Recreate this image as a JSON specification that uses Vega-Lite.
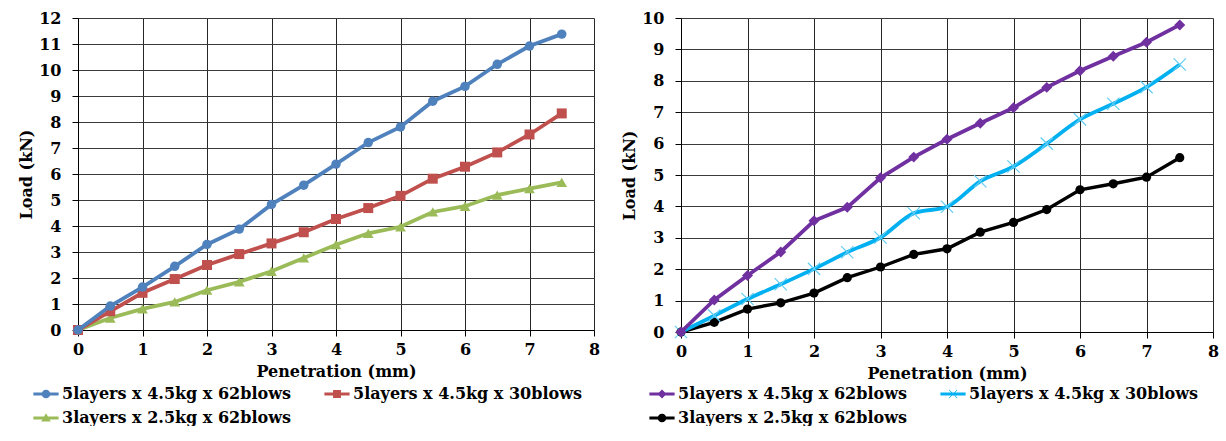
{
  "$schema": "https://vega.github.io/schema/vega-lite/v6.json",
  "background": "white",
  "padding": {"left": 18, "top": 10, "right": 0, "bottom": 0},
  "spacing": 21,
  "datasets": {
    "left": [
      {"p": 0, "l": 0, "s": "5layers x 4.5kg x 62blows"},
      {"p": 0.5, "l": 0.92, "s": "5layers x 4.5kg x 62blows"},
      {"p": 1, "l": 1.65, "s": "5layers x 4.5kg x 62blows"},
      {"p": 1.5, "l": 2.45, "s": "5layers x 4.5kg x 62blows"},
      {"p": 2, "l": 3.29, "s": "5layers x 4.5kg x 62blows"},
      {"p": 2.5, "l": 3.88, "s": "5layers x 4.5kg x 62blows"},
      {"p": 3, "l": 4.83, "s": "5layers x 4.5kg x 62blows"},
      {"p": 3.5, "l": 5.57, "s": "5layers x 4.5kg x 62blows"},
      {"p": 4, "l": 6.38, "s": "5layers x 4.5kg x 62blows"},
      {"p": 4.5, "l": 7.21, "s": "5layers x 4.5kg x 62blows"},
      {"p": 5, "l": 7.81, "s": "5layers x 4.5kg x 62blows"},
      {"p": 5.5, "l": 8.8, "s": "5layers x 4.5kg x 62blows"},
      {"p": 6, "l": 9.37, "s": "5layers x 4.5kg x 62blows"},
      {"p": 6.5, "l": 10.22, "s": "5layers x 4.5kg x 62blows"},
      {"p": 7, "l": 10.92, "s": "5layers x 4.5kg x 62blows"},
      {"p": 7.5, "l": 11.38, "s": "5layers x 4.5kg x 62blows"},
      {"p": 0, "l": 0, "s": "5layers x 4.5kg x 30blows"},
      {"p": 0.5, "l": 0.72, "s": "5layers x 4.5kg x 30blows"},
      {"p": 1, "l": 1.43, "s": "5layers x 4.5kg x 30blows"},
      {"p": 1.5, "l": 1.96, "s": "5layers x 4.5kg x 30blows"},
      {"p": 2, "l": 2.5, "s": "5layers x 4.5kg x 30blows"},
      {"p": 2.5, "l": 2.92, "s": "5layers x 4.5kg x 30blows"},
      {"p": 3, "l": 3.33, "s": "5layers x 4.5kg x 30blows"},
      {"p": 3.5, "l": 3.76, "s": "5layers x 4.5kg x 30blows"},
      {"p": 4, "l": 4.27, "s": "5layers x 4.5kg x 30blows"},
      {"p": 4.5, "l": 4.69, "s": "5layers x 4.5kg x 30blows"},
      {"p": 5, "l": 5.16, "s": "5layers x 4.5kg x 30blows"},
      {"p": 5.5, "l": 5.82, "s": "5layers x 4.5kg x 30blows"},
      {"p": 6, "l": 6.28, "s": "5layers x 4.5kg x 30blows"},
      {"p": 6.5, "l": 6.83, "s": "5layers x 4.5kg x 30blows"},
      {"p": 7, "l": 7.52, "s": "5layers x 4.5kg x 30blows"},
      {"p": 7.5, "l": 8.33, "s": "5layers x 4.5kg x 30blows"},
      {"p": 0, "l": 0, "s": "3layers x 2.5kg x 62blows"},
      {"p": 0.5, "l": 0.46, "s": "3layers x 2.5kg x 62blows"},
      {"p": 1, "l": 0.81, "s": "3layers x 2.5kg x 62blows"},
      {"p": 1.5, "l": 1.08, "s": "3layers x 2.5kg x 62blows"},
      {"p": 2, "l": 1.53, "s": "3layers x 2.5kg x 62blows"},
      {"p": 2.5, "l": 1.85, "s": "3layers x 2.5kg x 62blows"},
      {"p": 3, "l": 2.26, "s": "3layers x 2.5kg x 62blows"},
      {"p": 3.5, "l": 2.77, "s": "3layers x 2.5kg x 62blows"},
      {"p": 4, "l": 3.28, "s": "3layers x 2.5kg x 62blows"},
      {"p": 4.5, "l": 3.72, "s": "3layers x 2.5kg x 62blows"},
      {"p": 5, "l": 3.97, "s": "3layers x 2.5kg x 62blows"},
      {"p": 5.5, "l": 4.54, "s": "3layers x 2.5kg x 62blows"},
      {"p": 6, "l": 4.76, "s": "3layers x 2.5kg x 62blows"},
      {"p": 6.5, "l": 5.19, "s": "3layers x 2.5kg x 62blows"},
      {"p": 7, "l": 5.44, "s": "3layers x 2.5kg x 62blows"},
      {"p": 7.5, "l": 5.68, "s": "3layers x 2.5kg x 62blows"}
    ],
    "right": [
      {"p": 0, "l": 0, "s": "5layers x 4.5kg x 62blows"},
      {"p": 0.5, "l": 1.02, "s": "5layers x 4.5kg x 62blows"},
      {"p": 1, "l": 1.8, "s": "5layers x 4.5kg x 62blows"},
      {"p": 1.5, "l": 2.55, "s": "5layers x 4.5kg x 62blows"},
      {"p": 2, "l": 3.54, "s": "5layers x 4.5kg x 62blows"},
      {"p": 2.5, "l": 3.97, "s": "5layers x 4.5kg x 62blows"},
      {"p": 3, "l": 4.91, "s": "5layers x 4.5kg x 62blows"},
      {"p": 3.5, "l": 5.57, "s": "5layers x 4.5kg x 62blows"},
      {"p": 4, "l": 6.14, "s": "5layers x 4.5kg x 62blows"},
      {"p": 4.5, "l": 6.65, "s": "5layers x 4.5kg x 62blows"},
      {"p": 5, "l": 7.14, "s": "5layers x 4.5kg x 62blows"},
      {"p": 5.5, "l": 7.79, "s": "5layers x 4.5kg x 62blows"},
      {"p": 6, "l": 8.32, "s": "5layers x 4.5kg x 62blows"},
      {"p": 6.5, "l": 8.78, "s": "5layers x 4.5kg x 62blows"},
      {"p": 7, "l": 9.23, "s": "5layers x 4.5kg x 62blows"},
      {"p": 7.5, "l": 9.78, "s": "5layers x 4.5kg x 62blows"},
      {"p": 0, "l": 0, "s": "5layers x 4.5kg x 30blows"},
      {"p": 0.5, "l": 0.52, "s": "5layers x 4.5kg x 30blows"},
      {"p": 1, "l": 1.05, "s": "5layers x 4.5kg x 30blows"},
      {"p": 1.5, "l": 1.52, "s": "5layers x 4.5kg x 30blows"},
      {"p": 2, "l": 2.01, "s": "5layers x 4.5kg x 30blows"},
      {"p": 2.5, "l": 2.54, "s": "5layers x 4.5kg x 30blows"},
      {"p": 3, "l": 3.01, "s": "5layers x 4.5kg x 30blows"},
      {"p": 3.5, "l": 3.78, "s": "5layers x 4.5kg x 30blows"},
      {"p": 4, "l": 3.99, "s": "5layers x 4.5kg x 30blows"},
      {"p": 4.5, "l": 4.8, "s": "5layers x 4.5kg x 30blows"},
      {"p": 5, "l": 5.27, "s": "5layers x 4.5kg x 30blows"},
      {"p": 5.5, "l": 6.0, "s": "5layers x 4.5kg x 30blows"},
      {"p": 6, "l": 6.77, "s": "5layers x 4.5kg x 30blows"},
      {"p": 6.5, "l": 7.27, "s": "5layers x 4.5kg x 30blows"},
      {"p": 7, "l": 7.8, "s": "5layers x 4.5kg x 30blows"},
      {"p": 7.5, "l": 8.52, "s": "5layers x 4.5kg x 30blows"},
      {"p": 0, "l": 0, "s": "3layers x 2.5kg x 62blows"},
      {"p": 0.5, "l": 0.31, "s": "3layers x 2.5kg x 62blows"},
      {"p": 1, "l": 0.73, "s": "3layers x 2.5kg x 62blows"},
      {"p": 1.5, "l": 0.93, "s": "3layers x 2.5kg x 62blows"},
      {"p": 2, "l": 1.24, "s": "3layers x 2.5kg x 62blows"},
      {"p": 2.5, "l": 1.73, "s": "3layers x 2.5kg x 62blows"},
      {"p": 3, "l": 2.07, "s": "3layers x 2.5kg x 62blows"},
      {"p": 3.5, "l": 2.47, "s": "3layers x 2.5kg x 62blows"},
      {"p": 4, "l": 2.65, "s": "3layers x 2.5kg x 62blows"},
      {"p": 4.5, "l": 3.18, "s": "3layers x 2.5kg x 62blows"},
      {"p": 5, "l": 3.49, "s": "3layers x 2.5kg x 62blows"},
      {"p": 5.5, "l": 3.9, "s": "3layers x 2.5kg x 62blows"},
      {"p": 6, "l": 4.53, "s": "3layers x 2.5kg x 62blows"},
      {"p": 6.5, "l": 4.72, "s": "3layers x 2.5kg x 62blows"},
      {"p": 7, "l": 4.93, "s": "3layers x 2.5kg x 62blows"},
      {"p": 7.5, "l": 5.55, "s": "3layers x 2.5kg x 62blows"}
    ]
  },
  "hconcat": [
    {
      "width": 516,
      "height": 312,
      "data": {"name": "left"},
      "encoding": {
        "x": {
          "field": "p", "type": "quantitative",
          "scale": {"domain": [0, 8], "nice": false, "zero": false},
          "axis": {
            "title": "Penetration (mm)", "format": "d",
            "values": [0, 0.5, 1, 1.5, 2, 2.5, 3, 3.5, 4, 4.5, 5, 5.5, 6, 6.5, 7, 7.5, 8],
            "labelExpr": "datum.value % 1 ? '' : datum.label",
            "gridColor": {"condition": {"test": "datum.value % 1 === 0", "value": "#262626"}, "value": "#c4c4c4"},
            "tickOpacity": {"condition": {"test": "datum.value % 1 === 0", "value": 1}, "value": 0}
          }
        },
        "y": {
          "field": "l", "type": "quantitative",
          "scale": {"domain": [0, 12], "nice": false, "zero": false},
          "axis": {
            "title": "Load (kN)", "format": "d",
            "values": [0, 0.5, 1, 1.5, 2, 2.5, 3, 3.5, 4, 4.5, 5, 5.5, 6, 6.5, 7, 7.5, 8, 8.5, 9, 9.5, 10, 10.5, 11, 11.5, 12],
            "labelExpr": "datum.value % 1 ? '' : datum.label",
            "gridColor": {"condition": {"test": "datum.value % 1 === 0", "value": "#3a3a3a"}, "value": "#c4c4c4"},
            "tickOpacity": {"condition": {"test": "datum.value % 1 === 0", "value": 1}, "value": 0}
          }
        }
      },
      "layer": [
        {
          "transform": [{"filter": "datum.s === '3layers x 2.5kg x 62blows'"}],
          "mark": {"type": "line", "color": "#9BBB59", "strokeWidth": 3.8, "point": {"shape": "triangle-up", "size": 115, "filled": true, "color": "#9BBB59", "opacity": 1}}
        },
        {
          "transform": [{"filter": "datum.s === '5layers x 4.5kg x 30blows'"}],
          "mark": {"type": "line", "color": "#C0504D", "strokeWidth": 3.8, "point": {"shape": "square", "size": 100, "filled": true, "color": "#C0504D", "opacity": 1}}
        },
        {
          "transform": [{"filter": "datum.s === '5layers x 4.5kg x 62blows'"}],
          "mark": {"type": "line", "color": "#4F81BD", "strokeWidth": 3.8, "point": {"shape": "circle", "size": 90, "filled": true, "color": "#4F81BD", "opacity": 1}}
        },
        {
          "transform": [{"filter": "false"}],
          "mark": {"type": "point", "filled": true, "opacity": 1},
          "encoding": {
            "color": {
              "field": "s", "type": "nominal",
              "scale": {"domain": ["5layers x 4.5kg x 62blows", "5layers x 4.5kg x 30blows", "3layers x 2.5kg x 62blows"], "range": ["#4F81BD", "#C0504D", "#9BBB59"]},
              "legend": {"title": null, "orient": "none", "legendX": -44, "legendY": 364, "columns": 2, "direction": "horizontal"}
            },
            "shape": {
              "field": "s", "type": "nominal",
              "scale": {
                "domain": ["5layers x 4.5kg x 62blows", "5layers x 4.5kg x 30blows", "3layers x 2.5kg x 62blows"],
                "range": [
                  "M-1.05,-0.12H1.05V0.12H-1.05Z M0.36,0A0.36,0.36 0 1,1 -0.36,0A0.36,0.36 0 1,1 0.36,0Z",
                  "M-1.05,-0.12H1.05V0.12H-1.05Z M-0.33,-0.33H0.33V0.33H-0.33Z",
                  "M-1.05,-0.12H1.05V0.12H-1.05Z M0,-0.4L0.4,0.3H-0.4Z"
                ]
              },
              "legend": {"title": null, "orient": "none", "legendX": -44, "legendY": 364, "columns": 2, "direction": "horizontal"}
            }
          }
        }
      ]
    },
    {
      "width": 532,
      "height": 314,
      "data": {"name": "right"},
      "encoding": {
        "x": {
          "field": "p", "type": "quantitative",
          "scale": {"domain": [0, 8], "nice": false, "zero": false},
          "axis": {
            "title": "Penetration (mm)", "format": "d",
            "values": [0, 0.5, 1, 1.5, 2, 2.5, 3, 3.5, 4, 4.5, 5, 5.5, 6, 6.5, 7, 7.5, 8],
            "labelExpr": "datum.value % 1 ? '' : datum.label",
            "gridColor": {"condition": {"test": "datum.value % 1 === 0", "value": "#262626"}, "value": "#c4c4c4"},
            "tickOpacity": {"condition": {"test": "datum.value % 1 === 0", "value": 1}, "value": 0}
          }
        },
        "y": {
          "field": "l", "type": "quantitative",
          "scale": {"domain": [0, 10], "nice": false, "zero": false},
          "axis": {
            "title": "Load (kN)", "format": "d",
            "values": [0, 0.5, 1, 1.5, 2, 2.5, 3, 3.5, 4, 4.5, 5, 5.5, 6, 6.5, 7, 7.5, 8, 8.5, 9, 9.5, 10],
            "labelExpr": "datum.value % 1 ? '' : datum.label",
            "gridColor": {"condition": {"test": "datum.value % 1 === 0", "value": "#3a3a3a"}, "value": "#c4c4c4"},
            "tickOpacity": {"condition": {"test": "datum.value % 1 === 0", "value": 1}, "value": 0}
          }
        }
      },
      "layer": [
        {
          "transform": [{"filter": "datum.s === '3layers x 2.5kg x 62blows'"}],
          "mark": {"type": "line", "color": "#000000", "strokeWidth": 3.4, "point": {"shape": "circle", "size": 85, "filled": true, "color": "#000000", "opacity": 1}}
        },
        {
          "transform": [{"filter": "datum.s === '5layers x 4.5kg x 30blows'"}],
          "mark": {"type": "line", "color": "#00B0F0", "strokeWidth": 3.8, "interpolate": "monotone", "point": {"shape": "M-1,-1L1,1M-1,1L1,-1", "size": 150, "filled": false, "color": "#62CDF4", "strokeWidth": 1.2, "opacity": 1}}
        },
        {
          "transform": [{"filter": "datum.s === '5layers x 4.5kg x 62blows'"}],
          "mark": {"type": "line", "color": "#7030A0", "strokeWidth": 3.8, "point": {"shape": "diamond", "size": 120, "filled": true, "color": "#7030A0", "opacity": 1}}
        },
        {
          "transform": [{"filter": "false"}],
          "mark": {"type": "point", "filled": true, "opacity": 1},
          "encoding": {
            "color": {
              "field": "s", "type": "nominal",
              "scale": {"domain": ["5layers x 4.5kg x 62blows", "5layers x 4.5kg x 30blows", "3layers x 2.5kg x 62blows"], "range": ["#7030A0", "#00B0F0", "#000000"]},
              "legend": {"title": null, "orient": "none", "legendX": -31, "legendY": 364, "columns": 2, "direction": "horizontal"}
            },
            "shape": {
              "field": "s", "type": "nominal",
              "scale": {
                "domain": ["5layers x 4.5kg x 62blows", "5layers x 4.5kg x 30blows", "3layers x 2.5kg x 62blows"],
                "range": [
                  "M-1.05,-0.12H1.05V0.12H-1.05Z M0,-0.38L0.38,0L0,0.38L-0.38,0Z",
                  "M-1.05,-0.12H1.05V0.12H-1.05Z M-0.3,-0.35L0.37,0.32L0.33,0.36L-0.34,-0.31Z M0.33,-0.35L0.37,-0.31L-0.3,0.36L-0.34,0.32Z",
                  "M-1.05,-0.12H1.05V0.12H-1.05Z M0.36,0A0.36,0.36 0 1,1 -0.36,0A0.36,0.36 0 1,1 0.36,0Z"
                ]
              },
              "legend": {"title": null, "orient": "none", "legendX": -31, "legendY": 364, "columns": 2, "direction": "horizontal"}
            }
          }
        }
      ]
    }
  ],
  "resolve": {
    "scale": {"x": "independent", "y": "independent", "color": "independent", "shape": "independent"},
    "legend": {"color": "independent", "shape": "independent"}
  },
  "config": {
    "view": {"stroke": null},
    "font": "DejaVu Serif",
    "axis": {
      "labelFont": "DejaVu Serif", "labelFontWeight": "bold", "labelFontSize": 16, "labelColor": "#000",
      "titleFont": "DejaVu Serif", "titleFontWeight": "bold", "titleFontSize": 16, "titleColor": "#000",
      "domainColor": "#000", "domainWidth": 1, "tickColor": "#000", "tickSize": 6, "tickWidth": 1,
      "gridWidth": 1, "gridOpacity": 1, "labelOverlap": false, "labelFlush": false
    },
    "axisX": {"labelPadding": 5, "titlePadding": 6},
    "axisY": {"labelPadding": 11, "titlePadding": 4},
    "legend": {
      "labelFont": "DejaVu Serif", "labelFontWeight": "bold", "labelFontSize": 16, "labelColor": "#000",
      "symbolSize": 576, "symbolStrokeWidth": 0, "columnPadding": 33, "rowPadding": 4, "labelOffset": 4,
      "padding": 0, "offset": 0, "labelLimit": 400
    }
  }
}
